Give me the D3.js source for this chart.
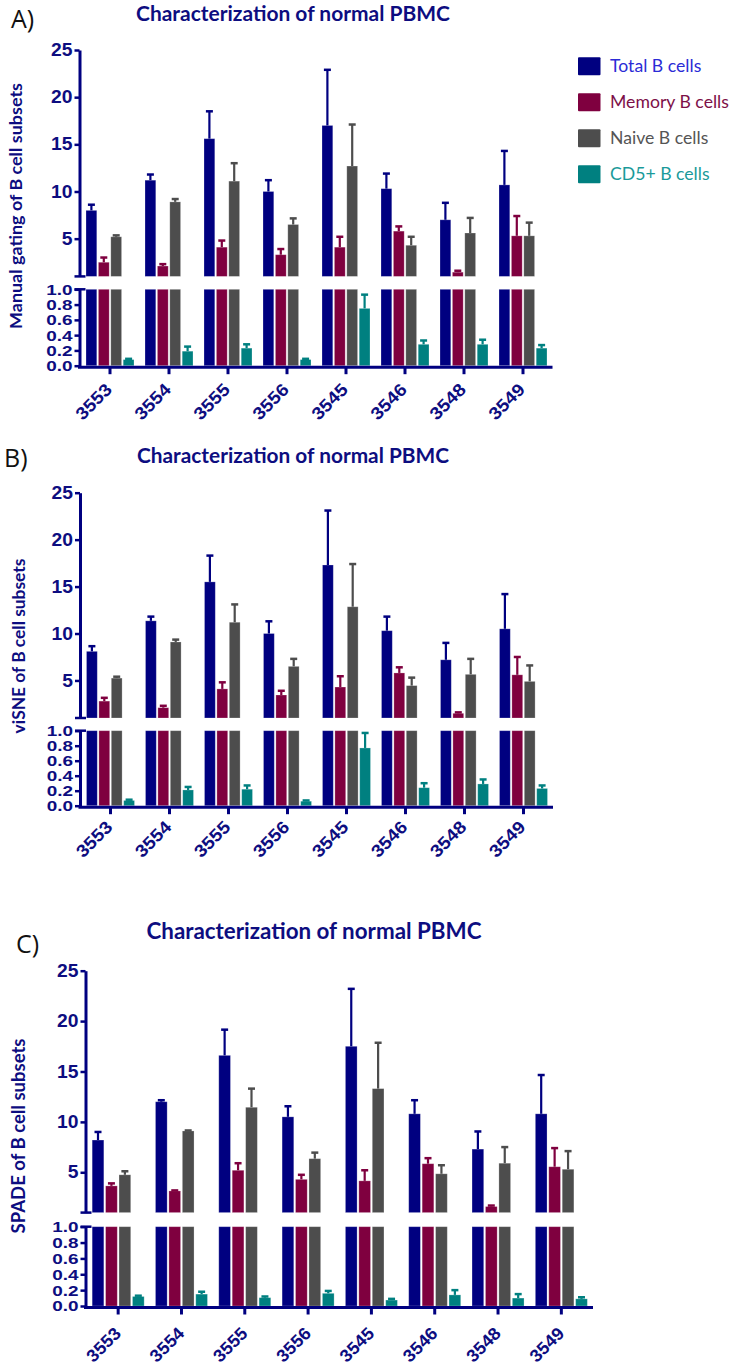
<!DOCTYPE html>
<html><head><meta charset="utf-8">
<script src="https://cdn.jsdelivr.net/npm/d3@7"></script>
<style>
html,body{margin:0;padding:0;background:#fff;}
svg{display:block;}
</style></head><body>
<svg id="chart" width="730" height="1367"></svg>
<script>
// ---------- data ----------
const categories = ["3553","3554","3555","3556","3545","3546","3548","3549"];
const seriesNames = ["Total B cells","Memory B cells","Naive B cells","CD5+ B cells"];
const upperTicks = [5,10,15,20,25];
const lowerTicks = [0,0.2,0.4,0.6,0.8,1.0];
const chartTitle = "Characterization of normal PBMC";

// A) Manual gating (mean, SD)
const manualTotal    = [8.0, 11.2, 15.6, 10.0, 17.0, 10.3, 7.0, 10.7];
const manualTotalSD  = [0.6, 0.6, 2.9, 1.2, 5.9, 1.6, 1.8, 3.6];
const manualMemory   = [2.5, 2.1, 4.1, 3.3, 4.1, 5.8, 1.45, 5.3];
const manualMemorySD = [0.5, 0.2, 0.7, 0.6, 1.1, 0.5, 0.15, 2.1];
const manualNaive    = [5.2, 8.9, 11.1, 6.5, 12.7, 4.3, 5.6, 5.3];
const manualNaiveSD  = [0.15, 0.3, 1.9, 0.65, 4.4, 0.9, 1.6, 1.4];
const manualCD5      = [0.08, 0.19, 0.23, 0.08, 0.75, 0.28, 0.28, 0.23];
const manualCD5SD    = [0.01, 0.06, 0.05, 0.01, 0.18, 0.05, 0.06, 0.04];

// B) viSNE
const visneTotal    = [8.1, 11.35, 15.5, 10.0, 17.3, 10.3, 7.2, 10.5];
const visneTotalSD  = [0.55, 0.45, 2.8, 1.3, 5.8, 1.5, 1.8, 3.7];
const visneMemory   = [2.8, 2.1, 4.1, 3.45, 4.3, 5.8, 1.5, 5.6];
const visneMemorySD = [0.35, 0.2, 0.7, 0.45, 1.15, 0.6, 0.1, 1.9];
const visneNaive    = [5.25, 9.1, 11.2, 6.5, 12.85, 4.45, 5.65, 4.9];
const visneNaiveSD  = [0.15, 0.25, 1.9, 0.8, 4.55, 0.85, 1.65, 1.7];
const visneCD5      = [0.07, 0.21, 0.22, 0.06, 0.77, 0.24, 0.29, 0.23];
const visneCD5SD    = [0.01, 0.04, 0.05, 0.01, 0.2, 0.06, 0.06, 0.04];

// C) SPADE
const spadeTotal    = [8.2, 12.0, 16.6, 10.5, 17.5, 10.8, 7.3, 10.8];
const spadeTotalSD  = [0.8, 0.15, 2.55, 1.05, 5.7, 1.35, 1.75, 3.85];
const spadeMemory   = [3.65, 3.15, 5.2, 4.3, 4.15, 5.85, 1.6, 5.55];
const spadeMemorySD = [0.25, 0.05, 0.7, 0.45, 1.05, 0.55, 0.1, 1.85];
const spadeNaive    = [4.75, 9.1, 11.45, 6.35, 13.3, 4.85, 5.9, 5.3];
const spadeNaiveSD  = [0.35, 0.05, 1.85, 0.6, 4.55, 0.85, 1.6, 1.8];
const spadeCD5      = [0.12, 0.15, 0.105, 0.16, 0.075, 0.14, 0.1, 0.09];
const spadeCD5SD    = [0.01, 0.03, 0.015, 0.03, 0.015, 0.06, 0.05, 0.02];

// ---------- styles ----------
const barColors = ["#000080","#7f003f","#4d4d4d","#008080"];
const legendTextColors = ["#2b2bd6","#7d1048","#555555","#1a9a9a"];
const navy = "#0d0d80";

const svg = d3.select("#chart");

function fit(sel, target){
  const w = sel.node().getComputedTextLength();
  const fs = parseFloat(sel.attr("font-size"));
  sel.attr("font-size", (fs*target/w).toFixed(2));
}
function widen(sel, k){
  sel.each(function(){
    const w = this.getComputedTextLength();
    d3.select(this).attr("textLength",(w*k).toFixed(2)).attr("lengthAdjust","spacingAndGlyphs");
  });
}

const panels = [
 {letter:"A)", lx:11, ly:27.5, tx:293, ty:21, tw:314,
  yt:"Manual gating of B cell subsets", ytx:21.5, yty:206, ytw:246,
  x0:80.5, x1:552.5, gw:48, upTop:50, upBot:276.4, lowTop:289.3, lowBot:365.7, lblDx:3, lblDy:25, lblK:1.1,
  vals:[manualTotal,manualMemory,manualNaive,manualCD5], errs:[manualTotalSD,manualMemorySD,manualNaiveSD,manualCD5SD], legend:true},
 {letter:"B)", lx:4, ly:467, tx:293, ty:463.3, tw:312,
  yt:"viSNE of B cell subsets", ytx:24.5, yty:646, ytw:175,
  x0:81, x1:553, gw:48, upTop:492.7, upBot:718, lowTop:730.7, lowBot:805.7, lblDx:3, lblDy:22.5, lblK:1.1,
  vals:[visneTotal,visneMemory,visneNaive,visneCD5], errs:[visneTotalSD,visneMemorySD,visneNaiveSD,visneCD5SD], legend:false},
 {letter:"C)", lx:16, ly:953, tx:314, ty:939, tw:335,
  yt:"SPADE of B cell subsets", ytx:24.5, yty:1136, ytw:195,
  x0:86.5, x1:593, gw:52, upTop:970.7, upBot:1212.6, lowTop:1226.7, lowBot:1306, lblDx:4, lblDy:28.5, lblK:1.04,
  vals:[spadeTotal,spadeMemory,spadeNaive,spadeCD5], errs:[spadeTotalSD,spadeMemorySD,spadeNaiveSD,spadeCD5SD], legend:false}
];

panels.forEach(cfg => {
  const g = svg.append("g");
  const x = d3.scaleBand().domain(categories).range([cfg.x0, cfg.x1]);
  const xs = d3.scaleBand().domain(seriesNames).range([-cfg.gw/2, cfg.gw/2]).paddingInner(0.13);
  const yU = d3.scaleLinear().domain([1,25]).range([cfg.upBot, cfg.upTop]);
  const yL = d3.scaleLinear().domain([0,1]).range([cfg.lowBot, cfg.lowTop]);
  const ax = cfg.x0 - 1;

  // panel letter
  g.append("text").attr("x",cfg.lx).attr("y",cfg.ly).text(cfg.letter)
    .attr("font-family","Open Sans, sans-serif").attr("font-size",25).attr("fill","#111");
  // title
  const t = g.append("text").attr("x",cfg.tx).attr("y",cfg.ty).attr("text-anchor","middle")
    .attr("font-family","Lato, sans-serif").attr("font-weight",700).attr("font-size",19)
    .attr("fill",navy).text(chartTitle);
  fit(t, cfg.tw);
  // y title
  const yt = g.append("text").attr("transform",`translate(${cfg.ytx},${cfg.yty}) rotate(-90)`)
    .attr("text-anchor","middle").attr("font-family","Lato, sans-serif").attr("font-weight",700)
    .attr("font-size",15).attr("fill",navy).text(cfg.yt);
  fit(yt, cfg.ytw);

  const recs = [];
  categories.forEach((c,i)=>seriesNames.forEach((s,j)=>recs.push({c,s,j,v:cfg.vals[j][i],e:cfg.errs[j][i]})));
  const bx = d => x(d.c) + x.bandwidth()/2 + xs(d.s);
  const bw = xs.bandwidth();
  const cx = d => bx(d) + bw/2;

  const big = recs.filter(d=>d.v>1);
  const barStyle = s => s.attr("fill",d=>barColors[d.j]).attr("stroke","#fff").attr("stroke-opacity",0.3).attr("stroke-width",0.8);

  // upper bars
  g.append("g").selectAll("rect").data(big).join("rect")
    .attr("x",bx).attr("width",bw).attr("y",d=>yU(d.v)).attr("height",d=>yU(1)-yU(d.v)).call(barStyle);
  // lower bars
  g.append("g").selectAll("rect").data(recs).join("rect")
    .attr("x",bx).attr("width",bw).attr("y",d=>yL(Math.min(d.v,1))).attr("height",d=>yL(0)-yL(Math.min(d.v,1))).call(barStyle);

  // error bars
  const eb = g.append("g");
  const ebData = recs.map(d=>{
    const y = d.v>1 ? yU : yL;
    return {d, y0:y(d.v), y1:y(d.v+d.e)};
  });
  eb.selectAll("line.v").data(ebData).join("line").attr("class","v")
    .attr("x1",e=>cx(e.d)).attr("x2",e=>cx(e.d)).attr("y1",e=>e.y0).attr("y2",e=>e.y1)
    .attr("stroke",e=>barColors[e.d.j]).attr("stroke-width",2.2);
  eb.selectAll("line.c").data(ebData).join("line").attr("class","c")
    .attr("x1",e=>cx(e.d)-3.5).attr("x2",e=>cx(e.d)+3.5).attr("y1",e=>e.y1).attr("y2",e=>e.y1)
    .attr("stroke",e=>barColors[e.d.j]).attr("stroke-width",2.5);

  const styleAxis = (a, fs) => {
    a.select(".domain").attr("stroke","#000080").attr("stroke-width",3);
    a.selectAll(".tick line").attr("stroke","#000080").attr("stroke-width",2.5);
    a.selectAll(".tick text").attr("fill",navy).attr("font-family","Liberation Sans, Arial, sans-serif")
      .attr("font-weight",700).attr("font-size",fs);
  };

  // upper y axis
  const aU = g.append("g").attr("transform",`translate(${ax},0)`)
    .call(d3.axisLeft(yU).tickValues(upperTicks).tickSize(5).tickSizeOuter(0).tickPadding(2));
  styleAxis(aU, 17.5);
  widen(aU.selectAll(".tick text"), 1.1);
  // lower y axis
  const aL = g.append("g").attr("transform",`translate(${ax},0)`)
    .call(d3.axisLeft(yL).tickValues(lowerTicks).tickFormat(d3.format(".1f")).tickSize(5).tickSizeOuter(0).tickPadding(2));
  styleAxis(aL, 15.5);
  widen(aL.selectAll(".tick text"), 1.22);
  // break caps
  g.append("line").attr("x1",ax-5).attr("x2",ax+6).attr("y1",cfg.upBot).attr("y2",cfg.upBot)
    .attr("stroke","#000080").attr("stroke-width",2.5);
  g.append("line").attr("x1",ax-5).attr("x2",ax+6).attr("y1",cfg.lowTop).attr("y2",cfg.lowTop)
    .attr("stroke","#000080").attr("stroke-width",2.5);

  // x axis
  const aX = g.append("g").attr("transform",`translate(0,${cfg.lowBot+1.5})`)
    .call(d3.axisBottom(x).tickSize(7).tickSizeOuter(0));
  styleAxis(aX, 17.5);
  aX.select(".domain").remove();
  aX.append("line").attr("x1",ax-1.5).attr("x2",cfg.x1).attr("y1",0).attr("y2",0)
    .attr("stroke","#000080").attr("stroke-width",3);
  aX.selectAll(".tick line").attr("stroke-width",3);
  aX.selectAll(".tick text").attr("y",null).attr("dy",null).attr("x",null)
    .attr("text-anchor","end")
    .attr("transform",`translate(${cfg.lblDx},${cfg.lblDy-1.5}) rotate(-45)`);
  widen(aX.selectAll(".tick text"), cfg.lblK);

  if (cfg.legend) {
    const lg = g.append("g");
    const rows = lg.selectAll("g").data(seriesNames).join("g")
      .attr("transform",(d,i)=>`translate(578,${57.3+i*36})`);
    rows.append("rect").attr("width",22.5).attr("height",18).attr("rx",1)
      .attr("fill",(d,i)=>barColors[i]);
    const txt = rows.append("text").attr("x",32).attr("y",14.5).text(d=>d)
      .attr("font-family","Lato, sans-serif").attr("font-size",17).attr("fill",(d,i)=>legendTextColors[i]);
    const mem = txt.filter((d,i)=>i===1);
    fit(mem, 119);
    txt.attr("font-size", mem.attr("font-size"));
  }
});
</script>
</body></html>
